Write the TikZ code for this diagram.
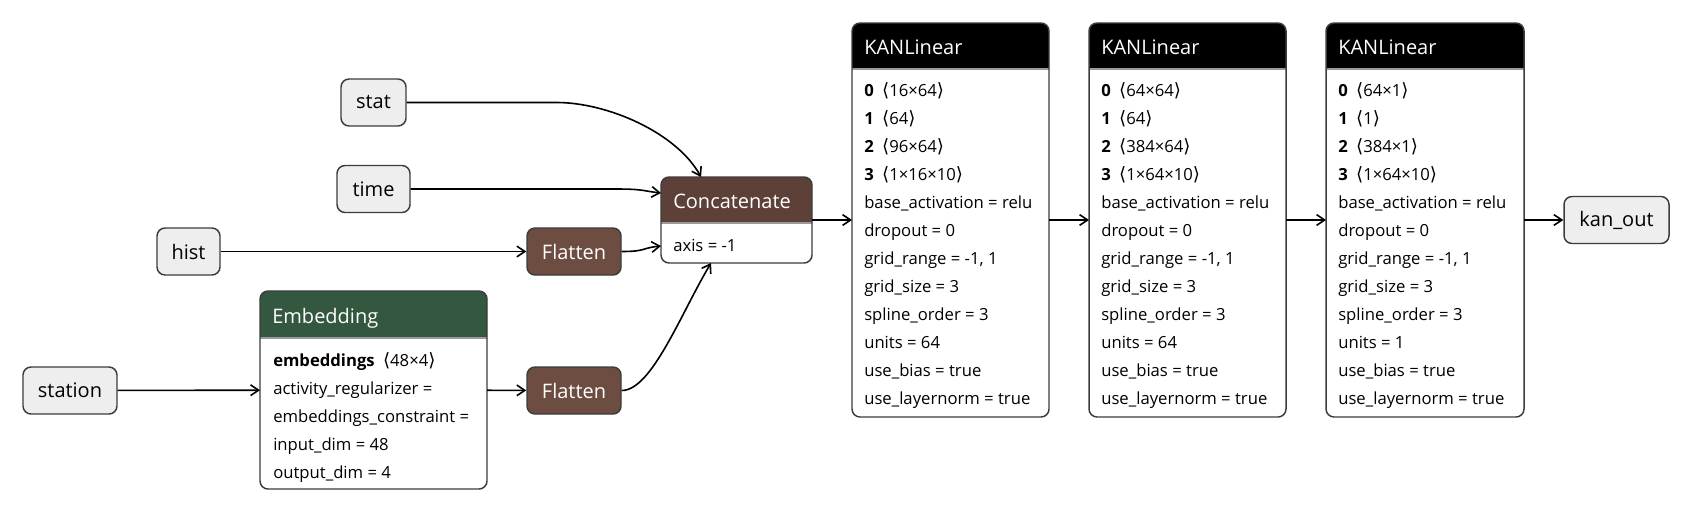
\documentclass[tikz,border=0pt]{standalone}
\usepackage{fontspec}
\setmainfont{Open Sans}
\newfontfamily\symfont{DejaVu Sans}[Scale=1.1]
\usetikzlibrary{arrows.meta}
\definecolor{inbg}{HTML}{EEEEEE}
\definecolor{edgecol}{HTML}{3C3C3C}
\definecolor{flatcol}{HTML}{6D4C41}
\definecolor{cathdr}{HTML}{5D4037}
\definecolor{embhdr}{HTML}{33573F}
\definecolor{sepcol}{HTML}{9A9A9A}
\newcommand\dims[1]{{\symfont\char"27E8}#1{\symfont\char"27E9}}
\tikzset{
  bodyfont/.style={font=\fontsize{12.5}{14}\selectfont},
  titlefont/.style={font=\fontsize{15}{17}\selectfont},
  recbox/.style={draw=none, fill=white, rectangle, rounded corners=6pt, inner sep=0pt, outer sep=0pt},
  recborder/.style={draw=edgecol, line width=1.1pt, rounded corners=6pt},
  sepline/.style={draw=sepcol, line width=0.8pt},
  bodyline/.style={bodyfont, inner sep=0pt, text=black},
  titletext/.style={titlefont, inner sep=0pt, text=white},
  innode/.style={titlefont, draw=edgecol, fill=inbg, line width=1.1pt, rounded corners=6pt, minimum height={47*0.75pt}, inner sep=0pt, text=black},
  flatnode/.style={innode, fill=flatcol, text=white, minimum width={94*0.75pt}},
  arr/.style={draw=black, line width=1.2pt, -{Straight Barb[length=6pt,width=8pt]}},
}
\newcommand\RecBox[8]{%
  \node[recbox, minimum width={#4*0.75pt}, minimum height={#5*0.75pt}] (#1) at (#2,#3) {};
  \begin{scope}
    \clip ({#2-#4/2},{#3-#5/2}) rectangle ({#2+#4/2},{#3-#5/2+#6});
    \fill[#7, rounded corners=6pt] ({#2-#4/2},{#3-#5/2}) rectangle ({#2+#4/2},{#3+#5/2});
  \end{scope}
  \draw[sepline] ({#2-#4/2},{#3-#5/2+#6}) -- ({#2+#4/2},{#3-#5/2+#6});
  \draw[recborder] (#1.south west) rectangle (#1.north east);
  \node[titletext, anchor=base west] (#1-t) at ({#2-#4/2+12},{#3-#5/2+#6/2+8.5}) {#8};
}
\newcommand\Rows[4]{%
  \foreach \t [count=\i from 0] in {#4}
    \node[bodyline, anchor=base west] (#1-r\i) at (#2,{#3+28*\i}) {\t};
}
\begin{document}
\begin{tikzpicture}[x=0.75pt,y=-0.75pt]
\useasboundingbox[fill=white] (0,0) rectangle (1694,514);

% input nodes
\node[innode, minimum width={65*0.75pt}] (stat) at (373.5,102.5) {stat};
\node[innode, minimum width={73*0.75pt}] (time) at (373.5,189) {time};
\node[innode, minimum width={63*0.75pt}] (hist) at (188.5,251.5) {hist};
\node[innode, minimum width={94*0.75pt}] (station) at (70,390.5) {station};
\node[flatnode] (flat1) at (574,251.5) {Flatten};
\node[flatnode] (flat2) at (574,390.5) {Flatten};
\node[innode, minimum width={105*0.75pt}] (kanout) at (1616.5,220) {kan\_out};

% Embedding
\RecBox{emb}{373.5}{390}{227}{198}{47}{embhdr}{Embedding}
\Rows{emb}{273}{366}{{\textbf{embeddings}\enspace\dims{48×4}},{activity\_regularizer =},{embeddings\_constraint =},{input\_dim = 48},{output\_dim = 4}}

% Concatenate
\RecBox{cat}{736.5}{220}{151}{86}{46}{cathdr}{Concatenate}
\Rows{cat}{673}{251}{{axis = -1}}

% KANLinear boxes
\RecBox{kanA}{950.5}{220}{197}{394}{46}{black}{KANLinear}
\Rows{kanA}{864}{96.7}{{\textbf{0}\enspace\dims{16×64}},{\textbf{1}\enspace\dims{64}},{\textbf{2}\enspace\dims{96×64}},{\textbf{3}\enspace\dims{1×16×10}},{base\_activation = relu},{dropout = 0},{grid\_range = -1, 1},{grid\_size = 3},{spline\_order = 3},{units = 64},{use\_bias = true},{use\_layernorm = true}}

\RecBox{kanB}{1187.5}{220}{197}{394}{46}{black}{KANLinear}
\Rows{kanB}{1101}{96.7}{{\textbf{0}\enspace\dims{64×64}},{\textbf{1}\enspace\dims{64}},{\textbf{2}\enspace\dims{384×64}},{\textbf{3}\enspace\dims{1×64×10}},{base\_activation = relu},{dropout = 0},{grid\_range = -1, 1},{grid\_size = 3},{spline\_order = 3},{units = 64},{use\_bias = true},{use\_layernorm = true}}

\RecBox{kanC}{1425}{220}{198}{394}{46}{black}{KANLinear}
\Rows{kanC}{1338}{96.7}{{\textbf{0}\enspace\dims{64×1}},{\textbf{1}\enspace\dims{1}},{\textbf{2}\enspace\dims{384×1}},{\textbf{3}\enspace\dims{1×64×10}},{base\_activation = relu},{dropout = 0},{grid\_range = -1, 1},{grid\_size = 3},{spline\_order = 3},{units = 1},{use\_bias = true},{use\_layernorm = true}}

% connectors
\draw[arr] (stat.east) -- ++(150,0) .. controls +(50,0) and +(-25,-45) .. ([xshift=-26.6pt]cat.north);
\draw[arr] (time.east) -- ++(205,0) .. controls +(28,0) and +(-18,-2) .. ([yshift=20.25pt]cat.west);
\draw[arr] (hist) -- (flat1);
\draw[arr] (flat1.east) .. controls +(25,0) and +(-20,2) .. ([yshift=-19.5pt]cat.west);
\draw[arr] (station) -- (emb);
\draw[arr] (emb) -- (flat2);
\draw[arr] (flat2.east) .. controls +(30,0) and +(-30,50) .. ([xshift=-19.1pt]cat.south);
\draw[arr] (cat) -- (kanA);
\draw[arr] (kanA) -- (kanB);
\draw[arr] (kanB) -- (kanC);
\draw[arr] (kanC) -- (kanout);
\end{tikzpicture}
\end{document}
